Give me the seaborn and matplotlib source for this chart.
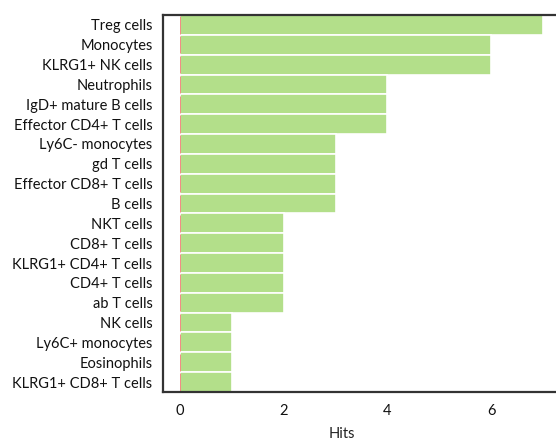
import matplotlib
matplotlib.use("Agg")
import matplotlib.pyplot as plt
import seaborn as sns
import pandas as pd

cell_types = [
    "Treg cells", "Monocytes", "KLRG1+ NK cells", "Neutrophils",
    "IgD+ mature B cells", "Effector CD4+ T cells", "Ly6C- monocytes",
    "gd T cells", "Effector CD8+ T cells", "B cells", "NKT cells",
    "CD8+ T cells", "KLRG1+ CD4+ T cells", "CD4+ T cells", "ab T cells",
    "NK cells", "Ly6C+ monocytes", "Eosinophils", "KLRG1+ CD8+ T cells",
]
hits = [7, 6, 6, 4, 4, 4, 3, 3, 3, 3, 2, 2, 2, 2, 2, 1, 1, 1, 1]
misses = [0] * len(cell_types)
xticks = [0, 2, 4, 6]

df = pd.DataFrame({"cell": cell_types, "hits": hits, "misses": misses})

sns.set_theme(style="white")
plt.rcParams["font.family"] = ["Lato", "DejaVu Sans"]

fig = plt.figure(figsize=(5.56, 4.41), dpi=100)
ax = fig.add_axes([163 / 556, 49 / 441, 1.04 - 163 / 556, 377 / 441])

# hits per cell type, with the (empty) misses series drawn as a thin edge at 0
sns.barplot(data=df, y="cell", x="hits", color="#b3df8a", saturation=1,
            width=1.0, edgecolor="white", linewidth=1.2, ax=ax)
sns.barplot(data=df, y="cell", x="misses", color="#f28b82", saturation=1,
            width=0.88, edgecolor="#f28b82", linewidth=0.7, ax=ax)

ax.set_xlim(-0.33, 7.68)
ax.set_xticks(xticks)
ax.set_xticklabels([str(t) for t in xticks])
ax.set_ylabel("")
ax.set_xlabel("Hits", fontsize=10.5, color="#222222")
ax.xaxis.set_label_coords(0.43, -0.092)

for side in ["left", "top", "bottom"]:
    ax.spines[side].set_color("#333333")
    ax.spines[side].set_linewidth(1.6)
ax.spines["right"].set_visible(False)

ax.tick_params(axis="both", direction="out", length=3.5, width=1.6,
               color="#333333", labelcolor="#111111", labelsize=10.5)
ax.tick_params(axis="x", pad=5)
ax.tick_params(axis="y", pad=4)

fig.savefig("out.png", dpi=100)
